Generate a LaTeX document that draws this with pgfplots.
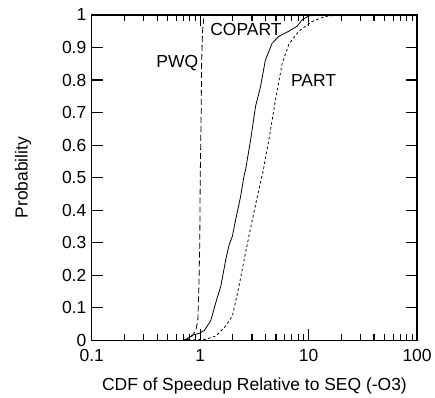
\documentclass[border=0pt]{standalone}
\usepackage{fontspec}
\setmainfont{Liberation Sans}
\usepackage{pgfplots}
\pgfplotsset{compat=1.18}
\begin{document}
\begin{tikzpicture}
\begin{axis}[
  name=ax,
  scale only axis,
  width=326pt, height=326pt,
  xmode=log,
  xmin=0.1, xmax=100,
  ymin=0, ymax=1,
  ytick={0,0.1,...,1},
  yticklabels={0,0.1,0.2,0.3,0.4,0.5,0.6,0.7,0.8,0.9,1},
  xtick={0.1,1,10,100},
  xticklabels={0.1,1,10,100},
  tick align=inside,
  major tick length=11pt,
  minor tick length=6pt,
  axis line style={line width=1.3pt},
  every tick/.style={black, line width=1.1pt},
  tick label style={font=\fontsize{17.5}{20}\selectfont},
  label style={font=\fontsize{17.5}{20}\selectfont},
  /pgf/number format/assume math mode=true,
  xticklabel style={yshift=-6pt},
  yticklabel style={xshift=-2pt},
  xlabel={CDF of Speedup Relative to SEQ (-O3)},
  ylabel={Probability},
  xlabel style={yshift=-9pt},
  ylabel style={yshift=24pt},
  clip=true,
]
% PWQ
\addplot[black, line width=0.8pt, dash pattern=on 6pt off 3pt] coordinates {
(0.70,0) (0.78,0.003) (0.85,0.015) (0.91,0.03) (0.95,0.06) (0.97,0.15) (0.99,0.3) (1.0,0.5) (1.02,0.7) (1.03,0.85) (1.05,0.95) (1.08,0.99) (1.1,1.0) (100,1.0)
};
% COPART
\addplot[black, line width=0.8pt] coordinates {
(0.70,0) (0.74,0.003) (0.85,0.016) (0.95,0.02) (1.0,0.023) (1.09,0.03) (1.25,0.06) (1.39,0.115) (1.55,0.167) (1.72,0.248) (1.85,0.294) (1.98,0.32) (2.12,0.37) (2.36,0.443) (2.53,0.504) (2.62,0.525) (2.92,0.617) (3.24,0.72) (3.6,0.78) (3.98,0.86) (4.6,0.913) (5.3,0.934) (6.56,0.95) (7.8,0.965) (8.7,0.985) (10,0.997) (12,1.0) (100,1.0)
};
% PART
\addplot[black, line width=0.8pt, dash pattern=on 2.5pt off 2.5pt] coordinates {
(0.70,0) (1.13,0.003) (1.39,0.013) (1.72,0.044) (1.98,0.075) (2.28,0.167) (2.62,0.27) (3.02,0.37) (3.47,0.463) (3.8,0.52) (4.3,0.617) (4.95,0.74) (5.69,0.85) (6.56,0.91) (8.1,0.95) (10.7,0.98) (14.1,0.995) (18.6,1.0) (100,1.0)
};
\node[font=\fontsize{17.5}{20}\selectfont] at (axis cs:0.615,0.853) {PWQ};
\node[font=\fontsize{17.5}{20}\selectfont] at (axis cs:2.64,0.954) {COPART};
\node[font=\fontsize{17.5}{20}\selectfont] at (axis cs:11.1,0.80) {PART};
\end{axis}
\path (ax.south west) ++(-92pt,-55pt) rectangle ++(435pt,396pt);
\end{tikzpicture}
\end{document}
